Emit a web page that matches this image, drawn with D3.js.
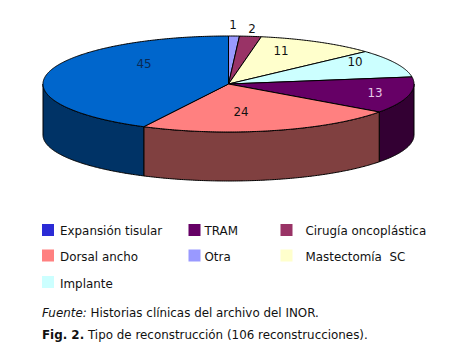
<!DOCTYPE html>
<html>
<head>
<meta charset="utf-8">
<script src="https://cdn.jsdelivr.net/npm/d3@7"></script>
<style>
    html, body { margin: 0; padding: 0; background: #fff; }
    svg { display: block; }
    text { font-family: "DejaVu Sans", Verdana, sans-serif; fill: #111; }
</style>
</head>
<body>
<div id="chart"></div>
<script>
// clockwise from 12 o'clock, the same order as the picture
const categories = ["Otra", "Cirugía oncoplástica", "Mastectomía  SC", "Implante", "TRAM", "Dorsal ancho", "Expansión tisular"];
const values = [1, 2, 11, 10, 13, 24, 45];
const topColors = ["#9999ff", "#993366", "#ffffcc", "#ccffff", "#660066", "#ff8080", "#0066cc"];
const sideColors = ["#4d4d80", "#4d1a33", "#808066", "#668080", "#330033", "#804040", "#003366"];

const legendOrder = ["Expansión tisular", "TRAM", "Cirugía oncoplástica", "Dorsal ancho", "Otra", "Mastectomía  SC", "Implante"];
const legendSwatch = ["#2b2bd6", "#660066", "#993366", "#ff8080", "#9999ff", "#ffffcc", "#ccffff"];

const dims = {width: 456, height: 355};
const pieTop = {cx: 228.5, cy: 84, rx: 185.5, ry: 48};
const pieBottom = {cx: 228.5, cy: 135, rx: 185.5, ry: 46};
const fontSize = 11.9;

// label spots, these do not sit on a clean radius so they are placed by hand
const labelSpots = [[233, 29], [252, 33], [281, 55], [355, 66], [375, 97], [241, 116], [144, 68]];
const legendCols = [
    {swatch: 42, text: 60},
    {swatch: 188.5, text: 204.5},
    {swatch: 280.5, text: 305.5}
];
const legendRows = [{swatch: 224, text: 235}, {swatch: 249.5, text: 261}, {swatch: 276, text: 288}];

const svg = d3.select("#chart")
    .append("svg")
    .attr("width", dims.width)
    .attr("height", dims.height)
    .attr("viewBox", `0 0 ${dims.width} ${dims.height}`);

const slices = d3.pie().sort(null).value(d => d)(values);

const color = d3.scaleOrdinal().domain(categories).range(topColors);
const sideColor = d3.scaleOrdinal().domain(categories).range(sideColors);
const swatchColor = d3.scaleOrdinal().domain(legendOrder).range(legendSwatch);

const project = (e, a) => [e.cx + e.rx * Math.sin(a), e.cy - e.ry * Math.cos(a)];
const anglesBetween = (a0, a1) => {
    const n = Math.max(2, Math.ceil((a1 - a0) / 0.01));
    return d3.range(n + 1).map(i => a0 + (a1 - a0) * i / n);
};
const line = d3.line();

// side wall, only the front half can be seen
const walls = slices
    .map((s, i) => ({
        name: categories[i],
        a0: Math.max(s.startAngle, Math.PI / 2),
        a1: Math.min(s.endAngle, Math.PI * 3 / 2)
    }))
    .filter(w => w.a1 > w.a0);

svg.append("g").selectAll("path")
    .data(walls)
    .join("path")
    .attr("d", w => {
        const angles = anglesBetween(w.a0, w.a1);
        const upper = angles.map(a => project(pieTop, a));
        const lower = angles.slice().reverse().map(a => project(pieBottom, a));
        return line(upper.concat(lower)) + "Z";
    })
    .attr("fill", w => sideColor(w.name))
    .attr("stroke", "#000")
    .attr("stroke-width", 1);

svg.append("g").selectAll("path")
    .data(slices)
    .join("path")
    .attr("d", s => {
        const pts = anglesBetween(s.startAngle, s.endAngle).map(a => project(pieTop, a));
        return line([[pieTop.cx, pieTop.cy], ...pts]) + "Z";
    })
    .attr("fill", (s, i) => color(categories[i]))
    .attr("stroke", "#000")
    .attr("stroke-width", 1)
    .attr("stroke-linejoin", "round");

svg.append("g").selectAll("text")
    .data(slices)
    .join("text")
    .attr("x", (s, i) => labelSpots[i][0])
    .attr("y", (s, i) => labelSpots[i][1])
    .attr("text-anchor", "middle")
    .attr("font-size", fontSize)
    .style("fill", (s, i) => categories[i] === "TRAM" ? "#e8c8e8" : categories[i] === "Expansión tisular" ? "#0a2a55" : "#111")
    .text(s => s.value);

// legend, 3 columns filled row by row
const legend = svg.append("g").selectAll("g")
    .data(legendOrder)
    .join("g");

legend.append("rect")
    .attr("x", (d, i) => legendCols[i % 3].swatch)
    .attr("y", (d, i) => legendRows[Math.floor(i / 3)].swatch)
    .attr("width", 12)
    .attr("height", 12)
    .attr("fill", d => swatchColor(d));

legend.append("text")
    .attr("x", (d, i) => legendCols[i % 3].text)
    .attr("y", (d, i) => legendRows[Math.floor(i / 3)].text)
    .attr("font-size", fontSize)
    .attr("xml:space", "preserve")
    .style("white-space", "pre")
    .text(d => d);

const source = svg.append("text").attr("x", 42).attr("y", 317).attr("font-size", fontSize);
source.append("tspan").attr("font-style", "italic").text("Fuente:");
source.append("tspan").text(" Historias clínicas del archivo del INOR.");

const caption = svg.append("text").attr("x", 42).attr("y", 339).attr("font-size", fontSize);
caption.append("tspan").attr("font-weight", "bold").text("Fig. 2.");
caption.append("tspan").text(" Tipo de reconstrucción (106 reconstrucciones).");
</script>
</body>
</html>
